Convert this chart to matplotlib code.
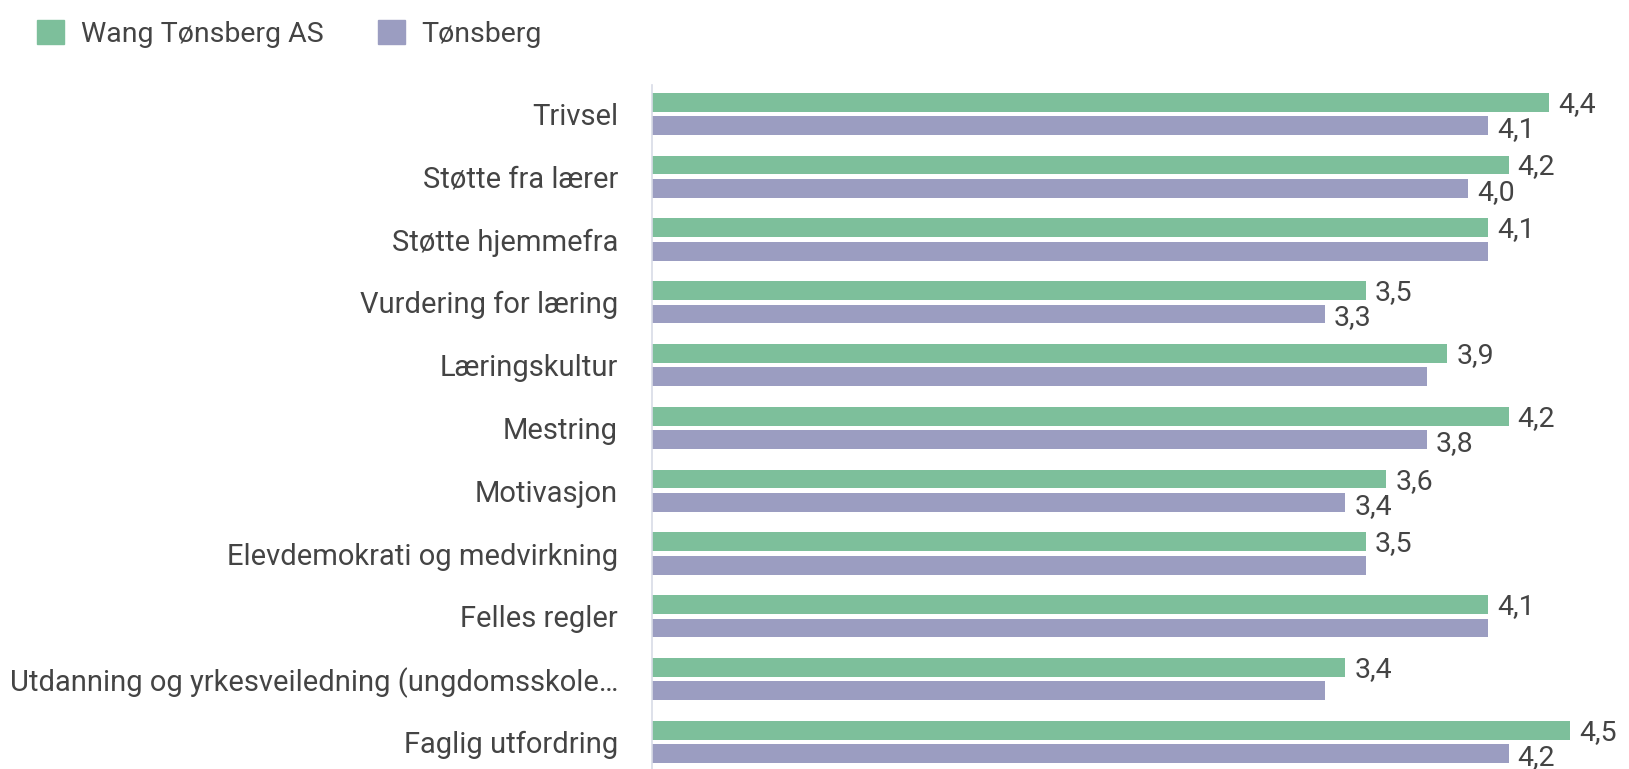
import matplotlib.pyplot as plt
from matplotlib.patches import Patch

categories = [
    "Trivsel",
    "Støtte fra lærer",
    "Støtte hjemmefra",
    "Vurdering for læring",
    "Læringskultur",
    "Mestring",
    "Motivasjon",
    "Elevdemokrati og medvirkning",
    "Felles regler",
    "Utdanning og yrkesveiledning (ungdomsskole…",
    "Faglig utfordring",
]
school_values = [4.4, 4.2, 4.1, 3.5, 3.9, 4.2, 3.6, 3.5, 4.1, 3.4, 4.5]
town_values = [4.1, 4.0, 4.1, 3.3, 3.8, 3.8, 3.4, 3.5, 4.1, 3.3, 4.2]
# purple value labels that are hidden in the original (overlap with the green label)
town_label_shown = [True, True, False, True, False, True, True, False, False, False, True]
series_names = ["Wang Tønsberg AS", "Tønsberg"]

GREEN = "#7dbf9b"
PURPLE = "#9b9dc1"
TEXT = "#444444"
FS = 20.5

plt.rcParams["font.family"] = ["Roboto", "DejaVu Sans"]

W, H = 1629, 769
fig = plt.figure(figsize=(W / 100, H / 100), dpi=100)
ax = fig.add_axes([652 / W, 0, 1 - 652 / W, 1 - 85 / H])

n = len(categories)
y = list(range(n))
off = 0.186
bh = 0.30
ax.barh([i - off for i in y], school_values, height=bh, color=GREEN, label=series_names[0])
ax.barh([i + off for i in y], town_values, height=bh, color=PURPLE, label=series_names[1])

ax.set_xlim(0, 4.79)
ax.set_ylim(10.43, -0.46)
ax.set_yticks(y)
ax.set_yticklabels(categories, fontsize=21, color=TEXT)
ax.tick_params(axis="y", length=0, pad=24.5)
ax.set_xticks([])
for side in ["top", "right", "bottom"]:
    ax.spines[side].set_visible(False)
ax.spines["left"].set_color("#d8dbe6")
ax.spines["left"].set_linewidth(1.2)

for i in y:
    ax.annotate(f"{school_values[i]:.1f}".replace(".", ","), (school_values[i], i - off),
                xytext=(9, -2), textcoords="offset pixels", va="center", ha="left",
                fontsize=FS, color=TEXT)
    if town_label_shown[i]:
        ax.annotate(f"{town_values[i]:.1f}".replace(".", ","), (town_values[i], i + off),
                    xytext=(9, -4), textcoords="offset pixels", va="center", ha="left",
                    fontsize=FS, color=TEXT)

handles = [Patch(color=GREEN), Patch(color=PURPLE)]
fig.legend(handles, series_names, loc="upper left", bbox_to_anchor=(11 / W, 1 + 6 / H),
           ncol=2, frameon=False, fontsize=FS, handlelength=0.95, handleheight=0.95,
           handletextpad=0.6, columnspacing=1.9, labelcolor=TEXT)

fig.savefig("out.png", dpi=100)
